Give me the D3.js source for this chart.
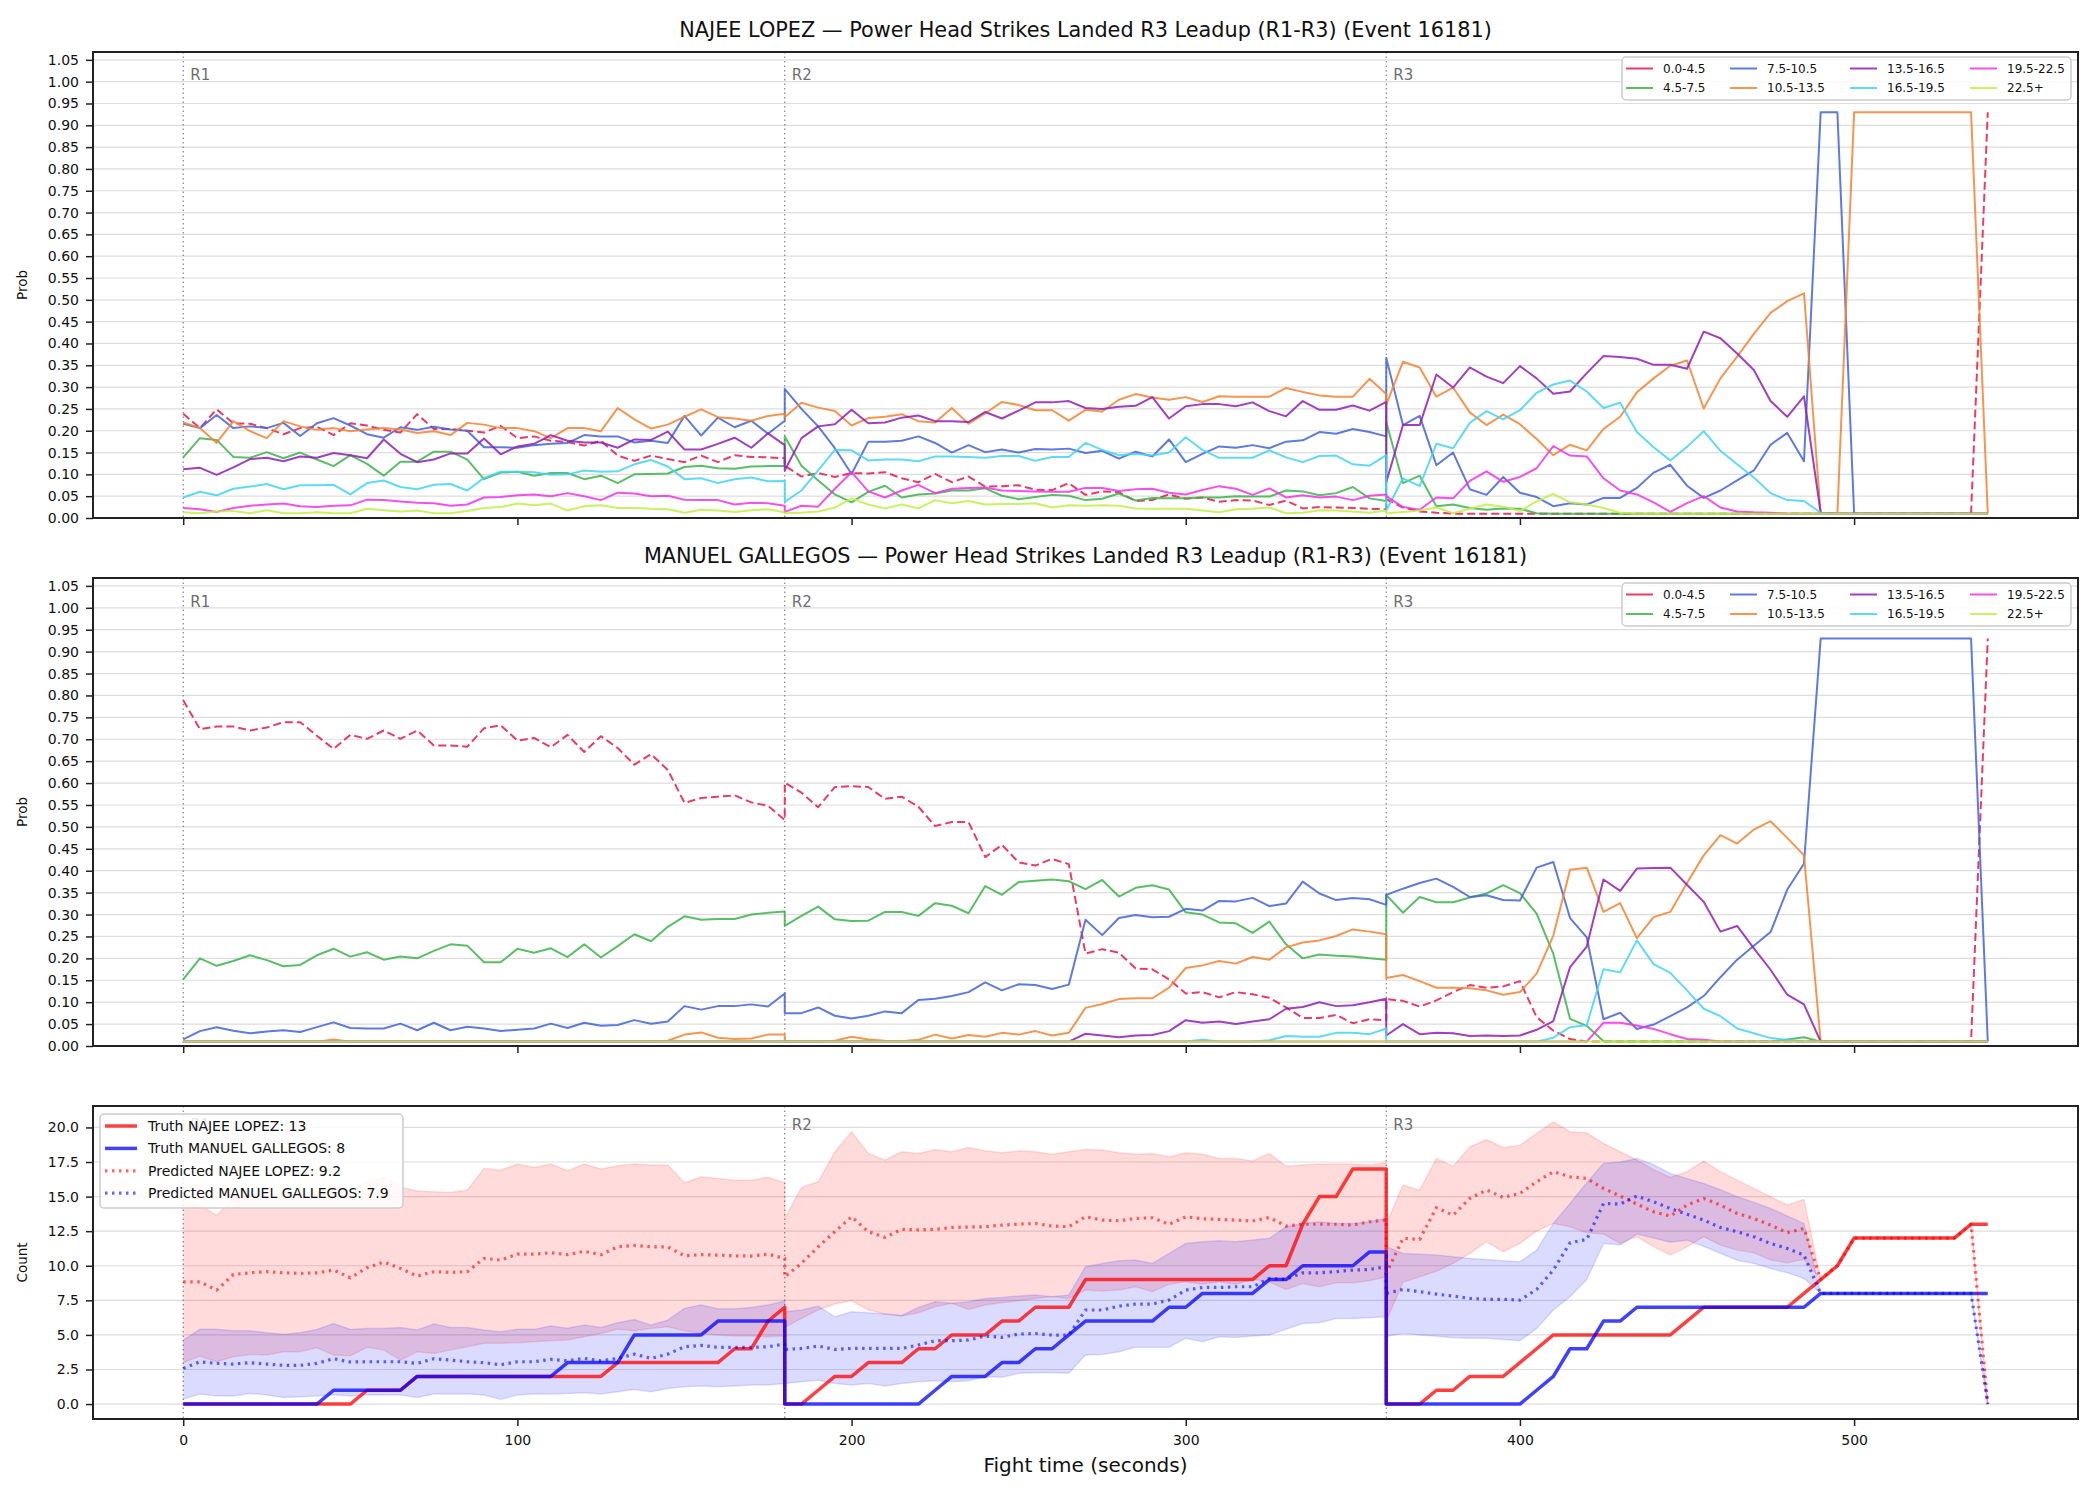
<!DOCTYPE html>
<html>
<head>
<meta charset="utf-8">
<script src="https://cdn.jsdelivr.net/npm/d3@7"></script>
<style>
  body { margin: 0; background: #fff; }
  svg { display: block; }
  text { font-family: "DejaVu Sans", sans-serif; }
</style>
</head>
<body>
<div id="chart"></div>
<script>
// ---- data ----
var roundStarts = [0, 180, 360];
var roundNames = ["R1", "R2", "R3"];
var binLabels = ["0.0-4.5", "4.5-7.5", "7.5-10.5", "10.5-13.5", "13.5-16.5", "16.5-19.5", "19.5-22.5", "22.5+"];
var binColors = ["#e6194b", "#3cb44b", "#4363d8", "#f58231", "#911eb4", "#42d4f4", "#f032e6", "#bfef45"];
var probTicks = d3.range(0, 1.051, 0.05);
var countTicks = [0, 2.5, 5, 7.5, 10, 12.5, 15, 17.5, 20];
var timeTicks = [0, 100, 200, 300, 400, 500];

// NAJEE LOPEZ bin probabilities (R1 | R2 | R3, every 5 s)
var lopezB0 = [0.239,0.206,0.249,0.217,0.216,0.206,0.192,0.206,0.209,0.190,0.217,0.212,0.202,0.196,0.238,0.204,0.204,0.200,0.196,0.211,0.183,0.187,0.177,0.174,0.166,0.177,0.143,0.131,0.143,0.135,0.128,0.143,0.128,0.144,0.140,0.139,0.137,
  0.120,0.095,0.103,0.094,0.103,0.102,0.105,0.091,0.082,0.101,0.082,0.095,0.072,0.073,0.075,0.065,0.064,0.080,0.053,0.061,0.059,0.039,0.041,0.054,0.044,0.047,0.037,0.041,0.040,0.030,0.040,0.022,0.025,0.024,0.023,0.021,0.020,
  0.043,0.024,0.015,0.012,0.01,0.01,0.01,0.01,0.01,0.01,0.01,0.01,0.01,0.01,0.01,0.01,0.01,0.01,0.01,0.01,0.01,0.01,0.01,0.01,0.01,0.01,0.01,0.01,0.01,0.01,0.01,0.01,0.01,0.01,0.01,0.01,0.93];
var lopezB1 = [0.139,0.183,0.179,0.140,0.138,0.151,0.137,0.150,0.134,0.119,0.144,0.124,0.097,0.129,0.129,0.152,0.152,0.134,0.089,0.104,0.106,0.097,0.103,0.103,0.089,0.097,0.080,0.100,0.101,0.102,0.117,0.120,0.114,0.113,0.118,0.119,0.119,
  0.187,0.120,0.086,0.054,0.036,0.060,0.074,0.047,0.054,0.056,0.063,0.063,0.068,0.051,0.043,0.048,0.053,0.051,0.041,0.044,0.056,0.040,0.046,0.045,0.045,0.047,0.047,0.050,0.049,0.049,0.063,0.061,0.052,0.057,0.071,0.045,0.039,
  0.220,0.080,0.097,0.027,0.031,0.023,0.019,0.022,0.021,0.011,0.01,0.01,0.01,0.01,0.01,0.01,0.01,0.01,0.01,0.01,0.01,0.01,0.01,0.01,0.01,0.01,0.01,0.01,0.01,0.01,0.01,0.01,0.01,0.01,0.01,0.01,0.01];
var lopezB2 = [0.216,0.206,0.236,0.206,0.210,0.206,0.218,0.188,0.217,0.229,0.212,0.192,0.184,0.208,0.202,0.209,0.203,0.200,0.162,0.162,0.161,0.167,0.170,0.172,0.190,0.187,0.187,0.173,0.177,0.172,0.234,0.189,0.230,0.208,0.223,0.193,0.223,
  0.296,0.250,0.210,0.160,0.101,0.175,0.175,0.177,0.187,0.172,0.150,0.167,0.151,0.157,0.150,0.158,0.157,0.159,0.149,0.154,0.136,0.152,0.141,0.180,0.128,0.147,0.164,0.161,0.167,0.160,0.175,0.178,0.197,0.193,0.204,0.197,0.187,
  0.367,0.213,0.234,0.121,0.150,0.066,0.053,0.094,0.058,0.048,0.027,0.034,0.031,0.046,0.046,0.069,0.104,0.122,0.074,0.046,0.063,0.086,0.109,0.168,0.195,0.130,0.93,0.93,0.01,0.01,0.01,0.01,0.01,0.01,0.01,0.01,0.01];
var lopezB3 = [0.219,0.206,0.172,0.222,0.199,0.183,0.222,0.210,0.202,0.206,0.199,0.203,0.206,0.203,0.195,0.199,0.190,0.218,0.214,0.206,0.206,0.199,0.183,0.206,0.206,0.199,0.252,0.226,0.205,0.214,0.232,0.249,0.231,0.228,0.223,0.234,0.239,
  0.231,0.264,0.253,0.245,0.212,0.229,0.232,0.238,0.222,0.219,0.252,0.216,0.240,0.266,0.259,0.247,0.247,0.223,0.248,0.244,0.271,0.284,0.276,0.271,0.277,0.266,0.279,0.278,0.278,0.278,0.298,0.289,0.281,0.278,0.278,0.319,0.284,
  0.260,0.358,0.345,0.278,0.299,0.242,0.213,0.237,0.215,0.181,0.144,0.168,0.155,0.204,0.232,0.288,0.320,0.349,0.361,0.251,0.320,0.370,0.422,0.470,0.497,0.515,0.01,0.01,0.93,0.93,0.93,0.93,0.93,0.93,0.93,0.93,0.01];
var lopezB4 = [0.112,0.115,0.099,0.116,0.135,0.138,0.130,0.141,0.138,0.149,0.144,0.137,0.180,0.147,0.128,0.134,0.148,0.148,0.182,0.146,0.164,0.170,0.190,0.177,0.173,0.173,0.161,0.180,0.179,0.198,0.157,0.157,0.170,0.184,0.161,0.194,0.167,
  0.109,0.183,0.210,0.215,0.248,0.217,0.219,0.230,0.235,0.222,0.222,0.220,0.243,0.228,0.246,0.265,0.265,0.268,0.252,0.250,0.255,0.257,0.277,0.228,0.256,0.261,0.261,0.256,0.265,0.245,0.233,0.268,0.248,0.248,0.258,0.246,0.266,
  0.082,0.213,0.213,0.329,0.299,0.345,0.324,0.309,0.348,0.320,0.285,0.290,0.332,0.371,0.369,0.365,0.351,0.351,0.342,0.427,0.412,0.377,0.339,0.268,0.232,0.279,0.012,0.01,0.01,0.01,0.01,0.01,0.01,0.01,0.01,0.01,0.01];
var lopezB5 = [0.047,0.060,0.052,0.067,0.072,0.078,0.066,0.075,0.075,0.076,0.054,0.080,0.086,0.071,0.066,0.076,0.078,0.063,0.092,0.106,0.106,0.105,0.099,0.100,0.109,0.106,0.107,0.123,0.133,0.118,0.089,0.091,0.080,0.089,0.093,0.084,0.085,
  0.037,0.063,0.109,0.156,0.155,0.132,0.134,0.134,0.130,0.141,0.141,0.140,0.138,0.142,0.142,0.131,0.140,0.140,0.172,0.156,0.144,0.147,0.143,0.150,0.185,0.156,0.138,0.138,0.138,0.155,0.139,0.128,0.142,0.143,0.123,0.120,0.144,
  0.017,0.091,0.073,0.170,0.160,0.218,0.245,0.226,0.247,0.287,0.306,0.315,0.290,0.252,0.264,0.197,0.162,0.132,0.163,0.199,0.154,0.123,0.093,0.057,0.041,0.039,0.012,0.01,0.01,0.01,0.01,0.01,0.01,0.01,0.01,0.01,0.01];
var lopezB6 = [0.023,0.020,0.014,0.023,0.028,0.031,0.033,0.027,0.025,0.028,0.029,0.042,0.041,0.038,0.035,0.034,0.028,0.031,0.047,0.048,0.052,0.054,0.050,0.057,0.050,0.041,0.058,0.056,0.050,0.051,0.042,0.041,0.041,0.031,0.035,0.034,0.028,
  0.014,0.028,0.026,0.067,0.105,0.061,0.047,0.063,0.076,0.057,0.067,0.069,0.070,0.063,0.062,0.061,0.060,0.060,0.069,0.069,0.062,0.066,0.067,0.058,0.054,0.064,0.073,0.067,0.053,0.068,0.047,0.052,0.047,0.049,0.041,0.051,0.054,
  0.050,0.025,0.019,0.047,0.045,0.085,0.107,0.083,0.094,0.114,0.165,0.143,0.141,0.091,0.063,0.054,0.036,0.014,0.034,0.050,0.024,0.015,0.013,0.012,0.01,0.01,0.01,0.01,0.01,0.01,0.01,0.01,0.01,0.01,0.01,0.01,0.01];
var lopezB7 = [0.013,0.011,0.015,0.016,0.011,0.018,0.011,0.011,0.013,0.011,0.011,0.021,0.018,0.015,0.017,0.011,0.011,0.016,0.023,0.025,0.033,0.029,0.033,0.017,0.027,0.029,0.023,0.023,0.021,0.020,0.012,0.019,0.017,0.014,0.018,0.020,0.013,
  0.011,0.012,0.015,0.024,0.045,0.031,0.022,0.031,0.022,0.041,0.034,0.039,0.031,0.032,0.032,0.034,0.024,0.029,0.028,0.029,0.028,0.022,0.021,0.021,0.021,0.017,0.013,0.020,0.021,0.024,0.011,0.012,0.018,0.017,0.015,0.012,0.017,
  0.011,0.014,0.017,0.024,0.011,0.021,0.031,0.026,0.016,0.038,0.055,0.036,0.031,0.023,0.012,0.01,0.01,0.01,0.01,0.01,0.01,0.01,0.01,0.01,0.01,0.01,0.01,0.01,0.01,0.01,0.01,0.01,0.01,0.01,0.01,0.01,0.01];

// MANUEL GALLEGOS bin probabilities
var gallegosB0 = [0.789,0.723,0.729,0.729,0.720,0.727,0.739,0.739,0.708,0.678,0.710,0.701,0.720,0.701,0.720,0.686,0.686,0.683,0.725,0.732,0.697,0.703,0.682,0.710,0.671,0.707,0.680,0.642,0.666,0.630,0.555,0.566,0.569,0.572,0.556,0.548,0.516,
  0.601,0.578,0.545,0.591,0.593,0.591,0.564,0.569,0.546,0.502,0.511,0.511,0.431,0.459,0.419,0.412,0.427,0.415,0.211,0.221,0.213,0.177,0.175,0.152,0.120,0.123,0.111,0.123,0.118,0.110,0.088,0.064,0.064,0.071,0.052,0.061,0.059,
  0.107,0.103,0.090,0.104,0.123,0.139,0.133,0.136,0.148,0.066,0.035,0.016,0.010,0.01,0.01,0.01,0.01,0.01,0.01,0.01,0.01,0.01,0.01,0.01,0.01,0.01,0.01,0.01,0.01,0.01,0.01,0.01,0.01,0.01,0.01,0.01,0.93];
var gallegosB1 = [0.152,0.200,0.183,0.194,0.207,0.196,0.182,0.185,0.207,0.222,0.204,0.214,0.197,0.204,0.200,0.217,0.232,0.229,0.191,0.191,0.222,0.213,0.223,0.203,0.232,0.202,0.228,0.255,0.239,0.272,0.296,0.288,0.290,0.290,0.300,0.304,0.307,
  0.274,0.297,0.318,0.289,0.285,0.286,0.306,0.306,0.297,0.326,0.320,0.303,0.365,0.345,0.374,0.377,0.380,0.376,0.358,0.379,0.341,0.361,0.367,0.357,0.305,0.300,0.282,0.280,0.258,0.284,0.232,0.200,0.209,0.206,0.204,0.200,0.197,
  0.345,0.304,0.340,0.328,0.328,0.339,0.348,0.367,0.349,0.302,0.210,0.062,0.046,0.011,0.01,0.01,0.01,0.01,0.01,0.01,0.01,0.01,0.01,0.01,0.015,0.020,0.01,0.01,0.01,0.01,0.01,0.01,0.01,0.01,0.01,0.01,0.01];
var gallegosB2 = [0.015,0.034,0.043,0.035,0.029,0.033,0.036,0.032,0.043,0.054,0.041,0.040,0.040,0.051,0.036,0.053,0.036,0.044,0.040,0.034,0.037,0.040,0.051,0.041,0.053,0.046,0.048,0.059,0.051,0.056,0.091,0.083,0.091,0.091,0.095,0.090,0.120,
  0.075,0.075,0.088,0.069,0.063,0.069,0.079,0.075,0.105,0.108,0.114,0.123,0.145,0.127,0.141,0.139,0.130,0.140,0.288,0.253,0.292,0.299,0.294,0.295,0.313,0.309,0.331,0.330,0.338,0.319,0.325,0.375,0.348,0.333,0.338,0.335,0.322,
  0.345,0.359,0.372,0.382,0.363,0.340,0.344,0.333,0.332,0.407,0.420,0.292,0.248,0.061,0.076,0.039,0.049,0.068,0.088,0.114,0.157,0.197,0.229,0.260,0.357,0.416,0.93,0.93,0.93,0.93,0.93,0.93,0.93,0.93,0.93,0.93,0.01];
var gallegosB3 = [0.01,0.01,0.01,0.01,0.01,0.01,0.01,0.01,0.01,0.015,0.01,0.01,0.01,0.01,0.01,0.01,0.01,0.01,0.01,0.01,0.01,0.01,0.01,0.01,0.01,0.01,0.01,0.01,0.01,0.012,0.026,0.031,0.019,0.016,0.017,0.026,0.026,
  0.01,0.01,0.01,0.012,0.021,0.015,0.012,0.011,0.014,0.026,0.017,0.025,0.021,0.030,0.026,0.034,0.024,0.030,0.087,0.096,0.107,0.109,0.109,0.133,0.178,0.184,0.194,0.188,0.203,0.197,0.225,0.236,0.241,0.251,0.266,0.261,0.255,
  0.155,0.162,0.148,0.133,0.133,0.132,0.127,0.117,0.123,0.165,0.252,0.402,0.407,0.306,0.326,0.246,0.294,0.306,0.372,0.435,0.481,0.462,0.494,0.513,0.475,0.435,0.01,0.01,0.01,0.01,0.01,0.01,0.01,0.01,0.01,0.01,0.01];
var gallegosB4 = [0.01,0.01,0.01,0.01,0.01,0.01,0.01,0.01,0.01,0.01,0.01,0.01,0.01,0.01,0.01,0.01,0.01,0.01,0.01,0.01,0.01,0.01,0.01,0.01,0.01,0.01,0.01,0.01,0.01,0.01,0.01,0.01,0.01,0.01,0.01,0.01,0.01,
  0.01,0.01,0.01,0.01,0.01,0.01,0.01,0.01,0.01,0.01,0.01,0.01,0.01,0.01,0.01,0.01,0.01,0.01,0.028,0.024,0.020,0.024,0.025,0.034,0.059,0.053,0.056,0.050,0.056,0.061,0.085,0.089,0.100,0.091,0.093,0.100,0.108,
  0.024,0.050,0.027,0.030,0.029,0.023,0.024,0.023,0.024,0.037,0.057,0.180,0.227,0.380,0.354,0.405,0.406,0.407,0.368,0.329,0.261,0.274,0.223,0.174,0.117,0.095,0.01,0.01,0.01,0.01,0.01,0.01,0.01,0.01,0.01,0.01,0.01];
var gallegosB5 = [0.01,0.01,0.01,0.01,0.01,0.01,0.01,0.01,0.01,0.01,0.01,0.01,0.01,0.01,0.01,0.01,0.01,0.01,0.01,0.01,0.01,0.01,0.01,0.01,0.01,0.01,0.01,0.01,0.01,0.01,0.01,0.01,0.01,0.01,0.01,0.01,0.01,
  0.01,0.01,0.01,0.01,0.01,0.01,0.01,0.01,0.01,0.01,0.01,0.01,0.01,0.01,0.01,0.01,0.01,0.01,0.01,0.01,0.01,0.01,0.01,0.01,0.01,0.014,0.01,0.01,0.01,0.013,0.023,0.021,0.021,0.030,0.030,0.027,0.040,
  0.01,0.01,0.01,0.01,0.01,0.01,0.01,0.01,0.01,0.01,0.019,0.043,0.048,0.175,0.168,0.241,0.187,0.167,0.127,0.085,0.068,0.040,0.029,0.018,0.014,0.01,0.01,0.01,0.01,0.01,0.01,0.01,0.01,0.01,0.01,0.01,0.01];
var gallegosB6 = [0.01,0.01,0.01,0.01,0.01,0.01,0.01,0.01,0.01,0.01,0.01,0.01,0.01,0.01,0.01,0.01,0.01,0.01,0.01,0.01,0.01,0.01,0.01,0.01,0.01,0.01,0.01,0.01,0.01,0.01,0.01,0.01,0.01,0.01,0.01,0.01,0.01,
  0.01,0.01,0.01,0.01,0.01,0.01,0.01,0.01,0.01,0.01,0.01,0.01,0.01,0.01,0.01,0.01,0.01,0.01,0.01,0.01,0.01,0.01,0.01,0.01,0.01,0.01,0.01,0.01,0.01,0.01,0.01,0.01,0.01,0.01,0.01,0.01,0.01,
  0.01,0.01,0.01,0.01,0.01,0.01,0.01,0.01,0.01,0.01,0.01,0.01,0.01,0.053,0.053,0.047,0.039,0.027,0.016,0.014,0.01,0.01,0.01,0.01,0.01,0.01,0.01,0.01,0.01,0.01,0.01,0.01,0.01,0.01,0.01,0.01,0.01];
var gallegosB7 = [0.01,0.01,0.01,0.01,0.01,0.01,0.01,0.01,0.01,0.01,0.01,0.01,0.01,0.01,0.01,0.01,0.01,0.01,0.01,0.01,0.01,0.01,0.01,0.01,0.01,0.01,0.01,0.01,0.01,0.01,0.01,0.01,0.01,0.01,0.01,0.01,0.01,
  0.01,0.01,0.01,0.01,0.01,0.01,0.01,0.01,0.01,0.01,0.01,0.01,0.01,0.01,0.01,0.01,0.01,0.01,0.01,0.01,0.01,0.01,0.01,0.01,0.01,0.01,0.01,0.01,0.01,0.01,0.01,0.01,0.01,0.01,0.01,0.01,0.01,
  0.01,0.01,0.01,0.01,0.01,0.01,0.01,0.01,0.01,0.01,0.01,0.01,0.01,0.01,0.01,0.01,0.01,0.01,0.01,0.01,0.01,0.01,0.01,0.01,0.01,0.01,0.01,0.01,0.01,0.01,0.01,0.01,0.01,0.01,0.01,0.01,0.01];

// cumulative counts
var truthLopez = [0,0,0,0,0,0,0,0,0,0,0,1,1,1,2,2,2,2,2,2,2,2,2,2,2,2,3,3,3,3,3,3,3,4,4,6,7,
  0,0,1,2,2,3,3,3,4,4,5,5,5,6,6,7,7,7,9,9,9,9,9,9,9,9,9,9,9,10,10,13,15,15,17,17,17,
  0,0,0,1,1,2,2,2,3,4,5,5,5,5,5,5,5,5,6,7,7,7,7,7,7,8,9,10,12,12,12,12,12,12,12,13,13];
var truthGallegos = [0,0,0,0,0,0,0,0,0,1,1,1,1,1,2,2,2,2,2,2,2,2,2,3,3,3,3,5,5,5,5,5,6,6,6,6,6,
  0,0,0,0,0,0,0,0,0,1,2,2,2,3,3,4,4,5,6,6,6,6,6,7,7,8,8,8,8,9,9,10,10,10,10,11,11,
  0,0,0,0,0,0,0,0,0,1,2,4,4,6,6,7,7,7,7,7,7,7,7,7,7,7,8,8,8,8,8,8,8,8,8,8,8];
var predLopez = [8.84,8.84,8.24,9.37,9.49,9.57,9.49,9.45,9.49,9.69,9.13,9.86,10.27,9.81,9.25,9.57,9.52,9.57,10.53,10.41,10.84,10.84,10.94,10.80,11.04,10.80,11.37,11.47,11.37,11.37,10.72,10.80,10.77,10.72,10.70,10.84,10.53,
  9.20,10.17,11.37,12.46,13.54,12.46,12.05,12.63,12.60,12.63,12.77,12.80,12.82,12.94,13.01,13.06,12.87,12.82,13.54,13.30,13.25,13.42,13.47,13.00,13.54,13.40,13.35,13.30,13.23,13.49,12.87,13.00,13.00,13.00,12.94,13.18,13.30,
  9.45,11.98,11.90,14.20,13.66,14.87,15.47,14.94,15.23,16.07,16.80,16.43,16.31,15.59,15.04,14.46,13.90,13.59,14.39,14.87,14.39,13.78,13.42,12.94,12.39,12.70,9,10,12,12,12,12,12,12,12,13,0];
var predGallegos = [2.58,3.06,2.94,2.89,2.99,2.89,2.80,2.80,2.94,3.28,3.04,3.06,3.06,3.06,2.94,3.28,3.18,3.06,2.99,2.84,3.06,3.06,3.23,3.13,3.30,3.13,3.30,3.61,3.30,3.61,4.14,4.24,4.10,4.10,4.10,4.14,4.34,
  3.95,4.02,4.19,3.95,4.02,4.02,4.02,4.02,4.27,4.58,4.58,4.63,4.92,4.82,5.06,5.10,4.99,4.99,6.80,6.80,7.08,7.23,7.23,7.52,8.24,8.43,8.43,8.48,8.48,9.08,9.01,9.49,9.49,9.57,9.69,9.73,9.93,
  8.00,8.29,8.12,7.95,7.81,7.64,7.57,7.57,7.52,8.29,9.69,11.66,11.90,14.50,14.46,15.04,14.63,14.14,13.73,13.30,12.77,12.46,12.10,11.61,11.25,10.77,8,8,8,8,8,8,8,8,8,8,0];
var lopezLo = [2.99,3.47,3.06,3.42,3.59,3.54,3.78,3.78,4.07,3.54,3.49,4.10,3.90,3.18,3.78,3.66,3.90,4.14,4.39,4.39,4.43,4.50,4.58,4.63,4.87,5.10,5.40,5.30,5.47,5.59,5.30,5.10,4.99,4.92,4.92,4.87,4.92,
  5.54,6.19,6.80,7.23,7.47,6.80,6.51,6.36,6.60,7.04,7.28,6.84,7.16,7.33,7.47,7.64,7.76,7.64,8.24,8.17,8.24,8.48,8.12,8.67,8.84,8.67,8.84,8.67,9.01,8.84,8.29,8.72,8.48,8.77,8.77,8.92,9.20,
  6.00,8.80,9.20,9.60,10.17,10.89,11.73,11.01,11.61,12.50,13.06,12.82,12.39,12.29,11.61,12.10,11.37,10.77,11.37,12.10,11.49,11.13,10.94,10.41,10.22,10.46,9,10,12,12,12,12,12,12,12,13,0];
var lopezHi = [14.63,14.39,13.66,14.80,15.20,15.00,15.30,15.10,15.40,15.60,15.50,16.00,16.40,15.70,15.40,15.35,15.30,15.47,17.04,16.90,17.35,17.10,17.35,16.87,17.35,16.99,17.23,17.35,17.28,17.28,16.00,16.43,16.31,16.19,16.19,16.39,16.00,
  13.42,15.66,16.07,18.24,19.69,18.12,17.64,18.24,18.12,18.41,18.24,18.55,18.31,18.17,18.31,18.24,18.07,18.24,18.41,18.36,18.17,18.07,18.12,17.88,18.17,18.07,17.76,17.76,17.57,18.12,17.20,17.28,17.35,17.35,17.35,17.28,17.45,
  13.00,15.83,15.47,17.76,17.20,18.60,19.13,18.55,18.72,19.57,20.41,19.69,19.61,18.84,18.24,17.64,16.96,16.39,16.80,17.59,16.80,16.19,15.59,14.99,14.39,14.80,9,10,12,12,12,12,12,12,12,13,0];
var gallegosLo = [0.34,0.72,0.58,0.58,0.77,0.65,0.48,0.53,0.58,0.67,0.58,0.65,0.65,0.65,0.48,0.72,0.72,0.72,0.65,0.34,0.65,0.72,0.72,0.77,0.82,0.72,0.89,1.06,0.89,1.13,1.25,1.30,1.25,1.30,1.37,1.37,1.49,
  1.49,1.61,1.73,1.49,1.37,1.49,1.30,1.49,1.61,1.69,1.61,1.69,1.98,1.93,2.22,2.27,2.27,2.22,3.54,3.59,3.78,4.10,4.10,4.10,4.75,4.51,4.87,4.82,4.92,4.99,5.40,5.83,5.88,6.19,6.19,6.24,6.31,
  4.90,5.10,5.00,4.90,4.80,4.75,4.75,4.67,4.58,5.47,6.80,7.76,9.00,11.60,11.50,12.30,12.00,11.70,11.85,11.40,10.90,10.40,10.17,9.80,9.50,9.08,8,8,8,8,8,8,8,8,8,8,0];
var gallegosHi = [4.63,5.40,5.40,5.30,5.30,5.16,5.04,5.16,5.40,5.83,5.40,5.47,5.47,5.54,5.35,5.78,5.54,5.54,5.35,5.23,5.40,5.40,5.64,5.49,5.71,5.54,5.88,6.12,5.71,6.07,6.92,7.16,6.89,6.89,6.99,7.16,7.45,
  6.67,6.80,7.08,6.31,6.67,6.60,6.51,6.41,6.99,7.40,7.28,7.40,7.64,7.71,7.81,7.88,7.76,7.88,9.93,10.17,10.36,10.41,10.17,10.89,11.61,11.73,11.81,11.73,11.86,11.98,12.82,13.06,13.18,13.06,13.06,13.18,13.42,
  11.40,10.89,10.84,10.77,10.65,10.53,10.46,10.36,10.29,11.13,13.06,14.50,16.00,17.40,17.50,17.76,17.30,16.67,16.30,15.95,15.50,14.99,14.60,14.14,13.60,13.06,8,8,8,8,8,8,8,8,8,8,0];

// ---- layout ----
var width = 2100, height = 1500;
var left = 93, right = 2078;
var panels = [
  {top: 52, bottom: 518},
  {top: 578, bottom: 1046},
  {top: 1106, bottom: 1419}
];

var times = [];
roundStarts.forEach(function(s) { times = times.concat(d3.range(s, s + 181, 5)); });

[lopezB0, lopezB1, lopezB2, lopezB3, lopezB4, lopezB5, lopezB6, lopezB7,
 gallegosB0, gallegosB1, gallegosB2, gallegosB3, gallegosB4, gallegosB5, gallegosB6, gallegosB7,
 truthLopez, truthGallegos, predLopez, predGallegos, lopezLo, lopezHi, gallegosLo, gallegosHi]
  .forEach(function(a, i) {
    if (a.length !== times.length) throw new Error("series " + i + " has " + a.length + " values");
  });

var svg = d3.select("#chart").append("svg")
  .attr("width", width)
  .attr("height", height)
  .style("background", "#fff");

var x = d3.scaleLinear().domain([-27, 567]).range([left, right]);

function frame(p, y, ticks, fmt, showX) {
  var g = svg.append("g");
  // horizontal grid
  g.selectAll(".grid").data(ticks).enter().append("line")
    .attr("x1", left).attr("x2", right)
    .attr("y1", function(d) { return y(d); })
    .attr("y2", function(d) { return y(d); })
    .attr("stroke", "#dddddd")
    .attr("stroke-width", 1.2);

  var ya = svg.append("g")
    .attr("transform", "translate(" + left + ",0)")
    .call(d3.axisLeft(y).tickValues(ticks).tickFormat(fmt).tickSize(7).tickPadding(7));
  ya.select(".domain").remove();
  ya.selectAll("line").attr("stroke", "#222").attr("stroke-width", 1.5);
  ya.selectAll("text").attr("font-size", "14px").attr("font-family", "DejaVu Sans").attr("fill", "#111");

  var xa = svg.append("g")
    .attr("transform", "translate(0," + p.bottom + ")")
    .call(d3.axisBottom(x).tickValues(timeTicks).tickFormat(showX ? d3.format("d") : "").tickSize(7).tickPadding(9));
  xa.select(".domain").remove();
  xa.selectAll("line").attr("stroke", "#222").attr("stroke-width", 1.5);
  xa.selectAll("text").attr("font-size", "14px").attr("font-family", "DejaVu Sans").attr("fill", "#111");

  // round markers
  roundStarts.forEach(function(s, i) {
    g.append("line")
      .attr("x1", x(s)).attr("x2", x(s))
      .attr("y1", p.top).attr("y2", p.bottom)
      .attr("stroke", "#666")
      .attr("stroke-width", 1.2)
      .attr("stroke-dasharray", "1.5,3")
      .attr("opacity", 0.8);
    g.append("text")
      .attr("x", x(s) + 7)
      .attr("y", p.top + 0.03 * (p.bottom - p.top) + 14.5)
      .attr("font-size", "15px")
      .attr("fill", "#6e6e6e")
      .text(roundNames[i]);
  });
  return g;
}

function spine(p) {
  svg.append("rect")
    .attr("x", left).attr("y", p.top)
    .attr("width", right - left).attr("height", p.bottom - p.top)
    .attr("fill", "none")
    .attr("stroke", "#222")
    .attr("stroke-width", 2);
}

function probPanel(pi, series, title) {
  var p = panels[pi];
  var y = d3.scaleLinear().domain([0, 1.068]).range([p.bottom, p.top]);
  frame(p, y, probTicks, d3.format(".2f"), false);

  var line = d3.line()
    .x(function(d) { return x(d[0]); })
    .y(function(d) { return y(d[1]); });

  series.forEach(function(arr, k) {
    svg.append("path")
      .datum(d3.zip(times, arr))
      .attr("d", line)
      .attr("fill", "none")
      .attr("stroke", binColors[k])
      .attr("stroke-width", 2)
      .attr("stroke-opacity", 0.85)
      .attr("stroke-linejoin", "round")
      .attr("stroke-dasharray", k === 0 ? "8,4" : null);
  });
  spine(p);

  svg.append("text")
    .attr("x", (left + right) / 2)
    .attr("y", p.top - 15)
    .attr("text-anchor", "middle")
    .attr("font-size", "20.8px")
    .attr("fill", "#111")
    .text(title);

  svg.append("text")
    .attr("transform", "translate(27," + ((p.top + p.bottom) / 2) + ") rotate(-90)")
    .attr("text-anchor", "middle")
    .attr("font-size", "13.5px")
    .attr("fill", "#111")
    .text("Prob");

  // legend, 4 columns x 2 rows
  var lx = 1622, ly = p.top + 5;
  var lg = svg.append("g");
  lg.append("rect")
    .attr("x", lx).attr("y", ly).attr("width", 449).attr("height", 43)
    .attr("rx", 4)
    .attr("fill", "#fff").attr("fill-opacity", 0.85)
    .attr("stroke", "#cccccc").attr("stroke-width", 1.5);
  var colX = [1626, 1730, 1850, 1970];
  binLabels.forEach(function(lab, k) {
    var cx = colX[Math.floor(k / 2)];
    var cy = ly + 11.5 + (k % 2) * 19.5;
    lg.append("line")
      .attr("x1", cx).attr("x2", cx + 27)
      .attr("y1", cy).attr("y2", cy)
      .attr("stroke", binColors[k])
      .attr("stroke-opacity", 0.85)
      .attr("stroke-width", 2);
    lg.append("text")
      .attr("x", cx + 37).attr("y", cy)
      .attr("dy", "0.35em")
      .attr("font-size", "12px")
      .attr("fill", "#111")
      .text(lab);
  });
}

probPanel(0, [lopezB0, lopezB1, lopezB2, lopezB3, lopezB4, lopezB5, lopezB6, lopezB7],
  "NAJEE LOPEZ \u2014 Power Head Strikes Landed R3 Leadup (R1-R3) (Event 16181)");
probPanel(1, [gallegosB0, gallegosB1, gallegosB2, gallegosB3, gallegosB4, gallegosB5, gallegosB6, gallegosB7],
  "MANUEL GALLEGOS \u2014 Power Head Strikes Landed R3 Leadup (R1-R3) (Event 16181)");

// ---- count panel ----
(function() {
  var p = panels[2];
  var y = d3.scaleLinear().domain([-1.08, 21.55]).range([p.bottom, p.top]);
  frame(p, y, countTicks, d3.format(".1f"), true);

  var area = d3.area()
    .x(function(d) { return x(d[0]); })
    .y0(function(d) { return y(d[1]); })
    .y1(function(d) { return y(d[2]); });
  var line = d3.line()
    .x(function(d) { return x(d[0]); })
    .y(function(d) { return y(d[1]); });

  var bands = [
    {lo: lopezLo, hi: lopezHi, color: "#ff0000"},
    {lo: gallegosLo, hi: gallegosHi, color: "#0000ff"}
  ];
  bands.forEach(function(b) {
    var rows = d3.zip(times, b.lo, b.hi);
    svg.append("path").datum(rows).attr("d", area)
      .attr("fill", b.color).attr("fill-opacity", 0.14).attr("stroke", "none");
    [b.lo, b.hi].forEach(function(edge) {
      svg.append("path").datum(d3.zip(times, edge)).attr("d", line)
        .attr("fill", "none").attr("stroke", b.color)
        .attr("stroke-opacity", 0.12).attr("stroke-width", 1.5);
    });
  });

  var lines = [
    {data: truthLopez, color: "#ff0000", dash: null, w: 3.5, op: 0.75},
    {data: truthGallegos, color: "#0000ff", dash: null, w: 3.5, op: 0.75},
    {data: predLopez, color: "#ff0000", dash: "2.5,4.5", w: 3.2, op: 0.6},
    {data: predGallegos, color: "#0000ff", dash: "2.5,4.5", w: 3.2, op: 0.6}
  ];
  lines.forEach(function(l) {
    svg.append("path").datum(d3.zip(times, l.data)).attr("d", line)
      .attr("fill", "none").attr("stroke", l.color)
      .attr("stroke-width", l.w).attr("stroke-opacity", l.op)
      .attr("stroke-dasharray", l.dash)
      .attr("stroke-linejoin", "round");
  });
  spine(p);

  svg.append("text")
    .attr("transform", "translate(27," + ((p.top + p.bottom) / 2) + ") rotate(-90)")
    .attr("text-anchor", "middle")
    .attr("font-size", "13.5px")
    .attr("fill", "#111")
    .text("Count");

  svg.append("text")
    .attr("x", (left + right) / 2).attr("y", 1472)
    .attr("text-anchor", "middle")
    .attr("font-size", "20px")
    .attr("fill", "#111")
    .text("Fight time (seconds)");

  var legendItems = [
    {label: "Truth NAJEE LOPEZ: 13", line: lines[0]},
    {label: "Truth MANUEL GALLEGOS: 8", line: lines[1]},
    {label: "Predicted NAJEE LOPEZ: 9.2", line: lines[2]},
    {label: "Predicted MANUEL GALLEGOS: 7.9", line: lines[3]}
  ];
  var lg = svg.append("g");
  lg.append("rect")
    .attr("x", 100).attr("y", 1114).attr("width", 303).attr("height", 94)
    .attr("rx", 4)
    .attr("fill", "#fff").attr("fill-opacity", 0.85)
    .attr("stroke", "#cccccc").attr("stroke-width", 1.5);
  legendItems.forEach(function(it, i) {
    var cy = 1126 + i * 22.4;
    lg.append("line")
      .attr("x1", 105).attr("x2", 137)
      .attr("y1", cy).attr("y2", cy)
      .attr("stroke", it.line.color)
      .attr("stroke-width", it.line.w)
      .attr("stroke-opacity", it.line.op)
      .attr("stroke-dasharray", it.line.dash);
    lg.append("text")
      .attr("x", 148).attr("y", cy)
      .attr("dy", "0.35em")
      .attr("font-size", "14px")
      .attr("fill", "#111")
      .text(it.label);
  });
})();
</script>
</body>
</html>
